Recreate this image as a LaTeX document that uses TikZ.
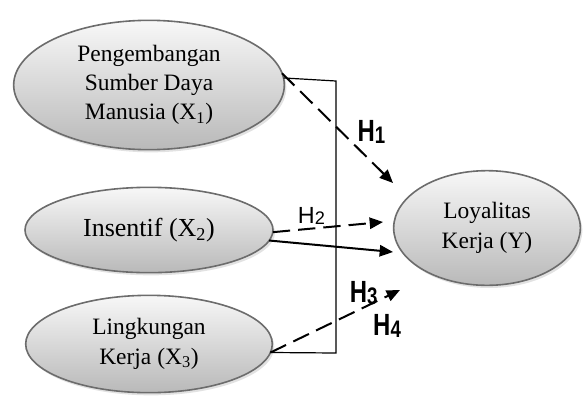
\documentclass[tikz,border=0pt]{standalone}
\usepackage{fontspec}
\usepackage{graphicx}
\setmainfont{Liberation Serif}
\newfontfamily\hypfont{Liberation Sans}
\usetikzlibrary{positioning, arrows.meta, shapes.geometric, shadows}
\tikzset{var node/.style={ellipse, draw=gray!85!black, line width=1.2pt, top color=gray!6, bottom color=gray!55,
    drop shadow={shadow xshift=1.5pt, shadow yshift=-2pt, fill=gray!45}, inner sep=0pt, outer sep=0pt,
    align=center, font=\fontsize{17.6}{22}\selectfont},}
\tikzset{hyp/.style={-{Triangle[length=10pt,width=8.5pt]}, line width=1.5pt},
  hyp dashed/.style={hyp, dash pattern=on 13pt off 6pt},
  hyp label/.style={font=\hypfont\bfseries\fontsize{23}{23}\selectfont, inner sep=1pt},}
\newcommand{\hyplabel}[2][0.78]{\scalebox{#1}[1]{H\raisebox{-0.12ex}{\scalebox{0.78}{#2}}}}

\begin{document}
\begin{tikzpicture}[x=0.75pt, y=-0.75pt]
		\useasboundingbox (0,0) rectangle (584,396);
		% Variables
		\node[var node, minimum width=203pt, minimum height=97pt] (x1) at (149,85) {Pengembangan\\Sumber Daya\\Manusia (X\textsubscript{1})};
		\node[var node, minimum width=186pt, minimum height=64pt, font=\fontsize{19.5}{22}\selectfont] (x2) at (149,230) {Insentif (X\textsubscript{2})};
		\node[var node, minimum width=185pt, minimum height=73pt] (x3) at (149,344) {Lingkungan\\Kerja (X\textsubscript{3})};
		\node[var node, minimum width=140pt, minimum height=86pt] (y) at (487,228) {Loyalitas\\Kerja (Y)};
		% Corners and tips
		\coordinate (top) at (336,81);
		\coordinate (bot) at (336,353);
		\coordinate (t1) at (393,183);
		\coordinate (t2) at (383,222);
		\coordinate (t0) at (393,252);
		\coordinate (t3) at (400,290);
		% Paths
		\draw[line width=0.9pt] (x1.3) -- (top) -- (bot) -- (x3.-4);
		\draw[hyp dashed] (x1.5) -- node[hyp label, pos=0.66, anchor=south west] {\hyplabel{1}} (t1);
		\draw[hyp dashed] (x2.-1) -- node[hyp label, font=\hypfont\fontsize{17.5}{17.5}\selectfont, pos=0.35, above=1pt] {\hyplabel[1]{2}} (t2);
		\draw[hyp] (x2.-5) -- (t0);
		\draw[hyp dashed] (x3.-4) -- node[hyp label, pos=0.72, above=0pt] {\hyplabel{3}}
		  node[hyp label, pos=0.9, below=12pt] {\hyplabel{4}} (t3);
	\end{tikzpicture}
\end{document}
